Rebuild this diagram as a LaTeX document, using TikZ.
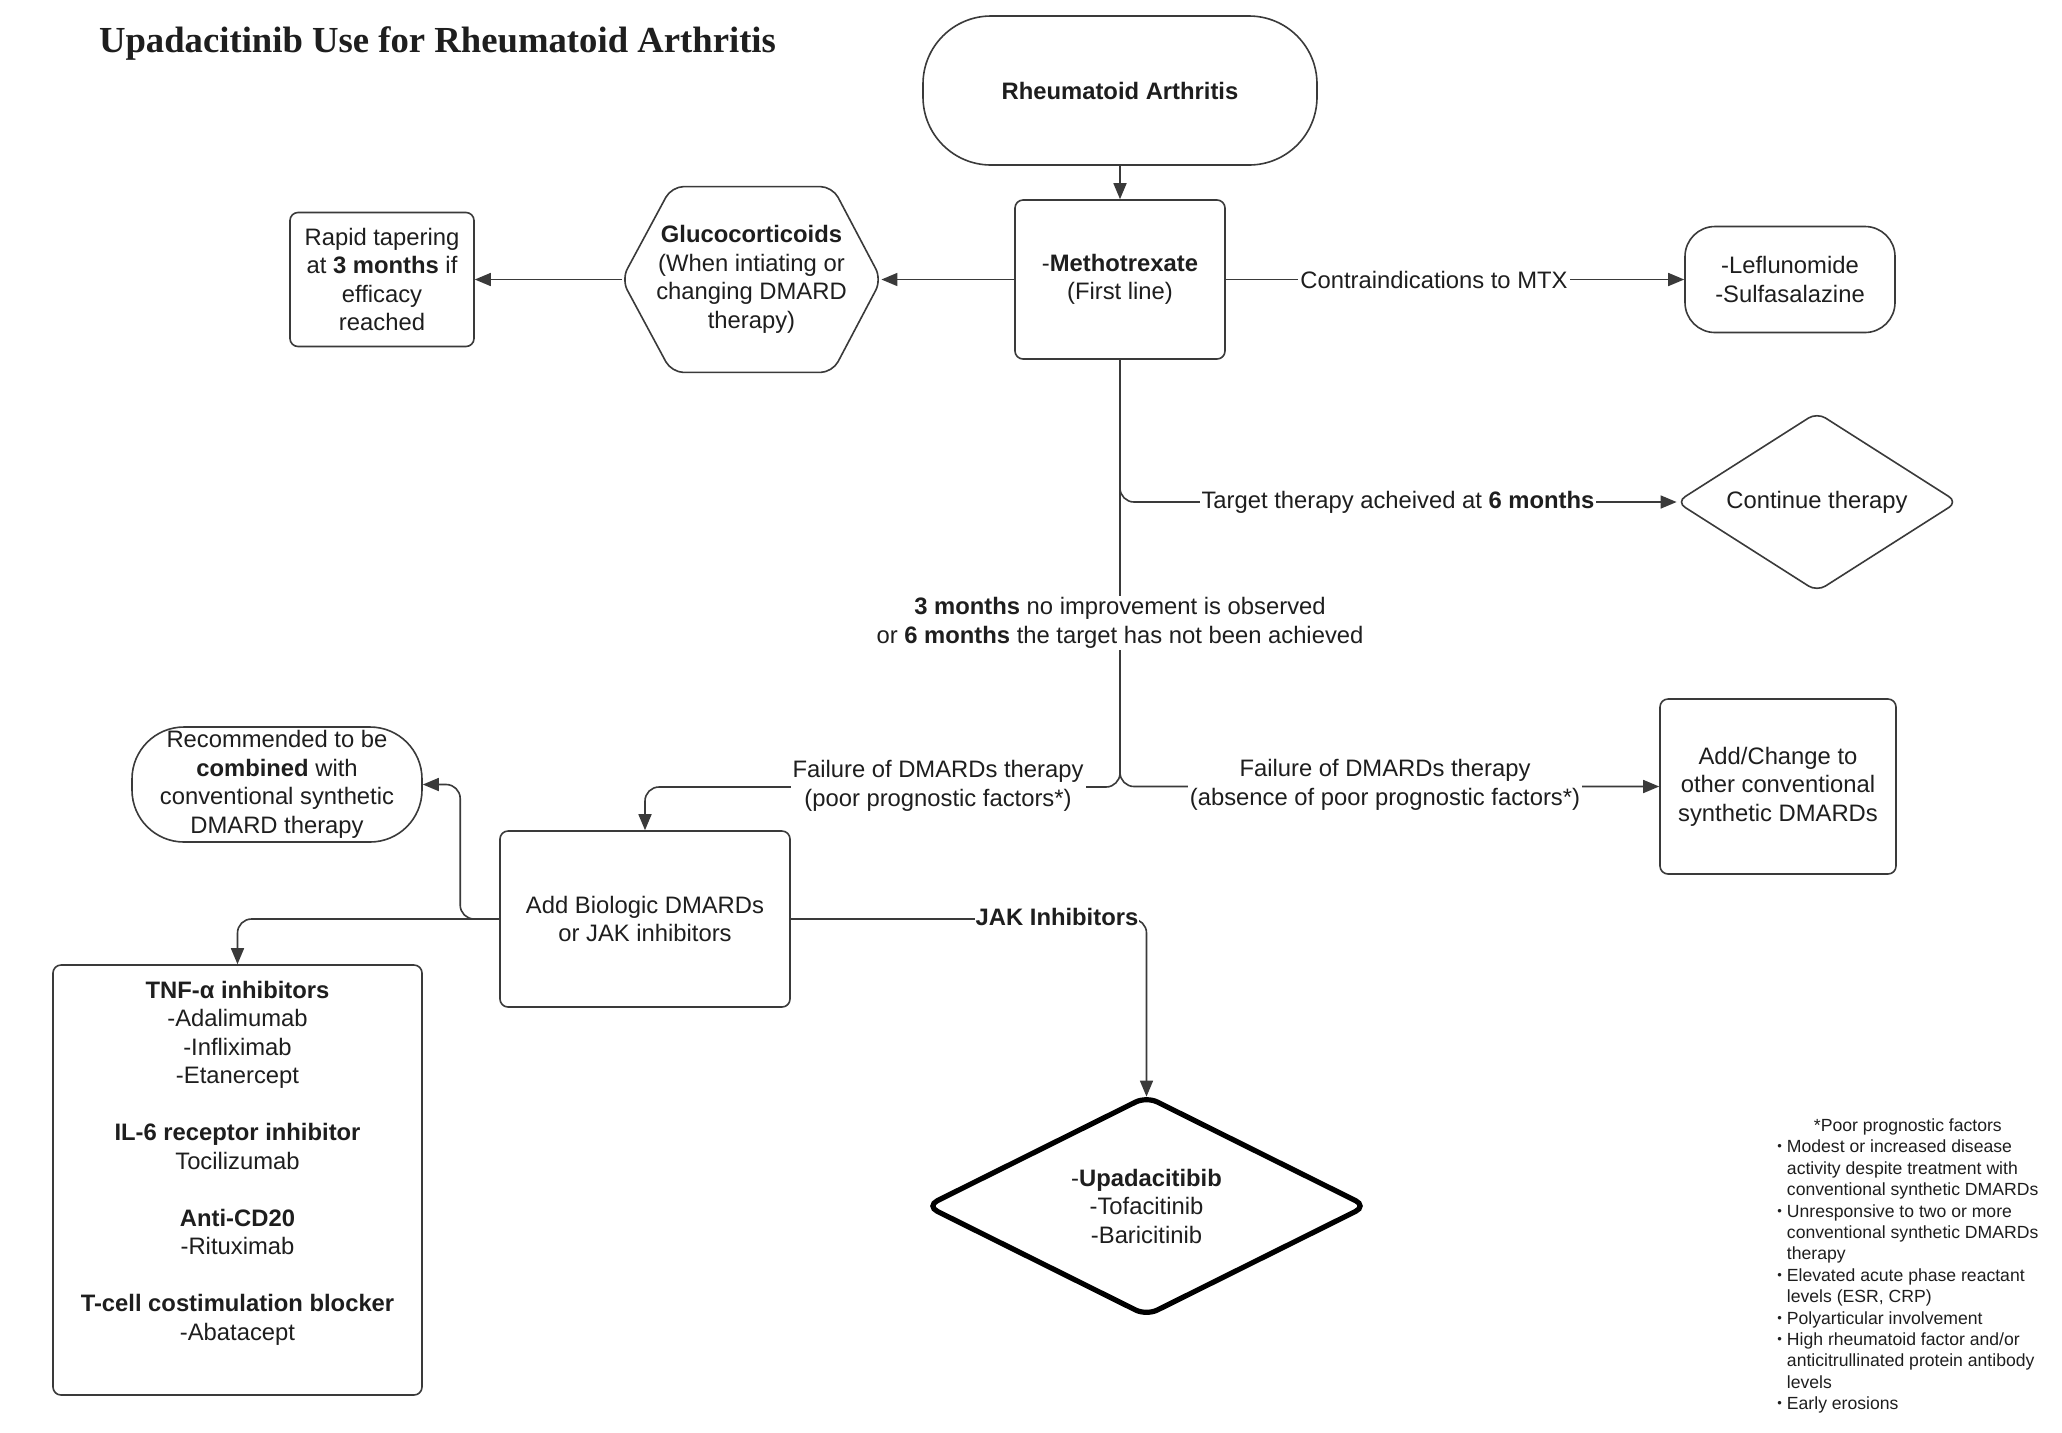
\documentclass[tikz,border=0pt]{standalone}
\usepackage{fontspec}
\setmainfont{Liberation Sans}
\newfontfamily\titlefont{Liberation Serif}
\usetikzlibrary{arrows.meta,calc}
\definecolor{ln}{HTML}{3A3A3A}
\definecolor{tx}{HTML}{1E1E1E}
\newcommand\mainsz{\fontsize{11.9}{14.25}\selectfont}
\newcommand\fnsz{\fontsize{8.8}{10.7}\selectfont}
\begin{document}
\begin{tikzpicture}[x=0.5pt,y=-0.5pt,
  every node/.style={text=tx, font=\mainsz},
  box/.style={draw=ln, line width=0.8pt, rounded corners=4pt, align=center, inner sep=0pt},
  shp/.style={draw=ln, line width=0.8pt},
  conn/.style={draw=ln, line width=0.8pt, rounded corners=7pt},
  arr/.style={conn, -{Triangle[length=8pt,width=6.5pt]}},
  lbl/.style={fill=white, inner sep=1pt, align=center},
]
\useasboundingbox[fill=white] (0,0) rectangle (2062,1432);

% title
\node[anchor=base west, font=\fontsize{18.35}{22}\titlefont\bfseries] (title) at (92,52) {Upadacitinib Use for Rheumatoid Arthritis};

% nodes
\node[box, rounded corners=34pt, minimum width=197pt, minimum height=74.5pt, font=\mainsz\bfseries] (ra) at (1120,90.5) {Rheumatoid Arthritis};
\node[box, minimum width=105pt, minimum height=79.5pt] (mtx) at (1120,279.5) {-\textbf{Methotrexate}\\(First line)};
\node[minimum width=129.5pt, minimum height=92.5pt, align=center, inner sep=0pt] (glu) at (751.5,279.5) {\textbf{Glucocorticoids}\\(When intiating or\\changing DMARD\\therapy)};
\draw[shp, rounded corners=6pt] (glu.west) -- ($(glu.north west)+(50,0)$) -- ($(glu.north east)+(-49,0)$) -- (glu.east) -- ($(glu.south east)+(-49,0)$) -- ($(glu.south west)+(50,0)$) -- cycle;
\node[box, minimum width=92pt, minimum height=67pt] (rap) at (382,279.5) {Rapid tapering\\at \textbf{3 months} if\\efficacy\\reached};
\node[box, rounded corners=15pt, minimum width=105pt, minimum height=53pt] (lef) at (1790,279.5) {-Leflunomide\\-Sulfasalazine};
\node[minimum width=140pt, minimum height=89pt, inner sep=0pt] (cont) at (1817,502) {Continue therapy};
\draw[shp, rounded corners=5pt] (cont.west) -- (cont.north) -- (cont.east) -- (cont.south) -- cycle;
\node[box, minimum width=118pt, minimum height=87.5pt] (addc) at (1778,786.5) {Add/Change to\\other conventional\\synthetic DMARDs};
\node[box, minimum width=145pt, minimum height=88pt] (bio) at (645,919) {Add Biologic DMARDs\\or JAK inhibitors};
\node[box, rounded corners=26pt, minimum width=145pt, minimum height=57.5pt] (rec) at (277,784.5) {Recommended to be\\\textbf{combined} with\\conventional synthetic\\DMARD therapy};
\node[box, minimum width=184.5pt, minimum height=215pt] (tnf) at (237.5,1180) {};
\node[align=center] (tnft) at (237.5,1163) {\textbf{TNF-α inhibitors}\\-Adalimumab\\-Infliximab\\-Etanercept\\[14.25pt]\textbf{IL-6 receptor inhibitor}\\Tocilizumab\\[14.25pt]\textbf{Anti-CD20}\\-Rituximab\\[14.25pt]\textbf{T-cell costimulation blocker}\\-Abatacept};
\node[minimum width=219.5pt, minimum height=109pt, inner sep=0pt, align=center] (jak) at (1146.5,1206) {-\textbf{Upadacitibib}\\-Tofacitinib\\-Baricitinib};
\draw[draw=black, line width=2.6pt, rounded corners=6pt] (jak.west) -- (jak.north) -- (jak.east) -- (jak.south) -- cycle;

% footnote
\node[anchor=north west, inner sep=0pt, font=\fnsz] (fn) at (1777,1116) {\begin{tabular}{@{}l@{\hspace{2.5pt}}l@{}}
\multicolumn{2}{c}{*Poor prognostic factors}\\
\raisebox{0.2ex}{\fontsize{6.5}{6.5}\selectfont •}&Modest or increased disease\\
&activity despite treatment with\\
&conventional synthetic DMARDs\\
\raisebox{0.2ex}{\fontsize{6.5}{6.5}\selectfont •}&Unresponsive to two or more\\
&conventional synthetic DMARDs\\
&therapy\\
\raisebox{0.2ex}{\fontsize{6.5}{6.5}\selectfont •}&Elevated acute phase reactant\\
&levels (ESR, CRP)\\
\raisebox{0.2ex}{\fontsize{6.5}{6.5}\selectfont •}&Polyarticular involvement\\
\raisebox{0.2ex}{\fontsize{6.5}{6.5}\selectfont •}&High rheumatoid factor and/or\\
&anticitrullinated protein antibody\\
&levels\\
\raisebox{0.2ex}{\fontsize{6.5}{6.5}\selectfont •}&Early erosions
\end{tabular}};

% connectors
\draw[arr] (ra.south) -- (mtx.north);
\draw[arr] (mtx.west) -- (glu.east);
\draw[arr] (glu.west) -- (rap.east);
\draw[arr] (mtx.east) -- (lef.west);
\node[lbl] (lcontra) at (1434,279.5) {Contraindications to MTX};

\draw[arr] (mtx.south) |- (cont.west);
\node[lbl] (ltarget) at (1398,502) {Target therapy acheived at \textbf{6 months}};

\coordinate (split) at (1120,787);
\draw[arr] (mtx.south) |- (addc.west);
\draw[arr] (mtx.south) -- (split) -| (bio.north);
\node[lbl] (l3m) at (1120,623) {\textbf{3 months} no improvement is observed\\or \textbf{6 months} the target has not been achieved};
\node[lbl] (lfail1) at (938,786) {Failure of DMARDs therapy\\(poor prognostic factors*)};
\node[lbl] (lfail2) at (1385,785) {Failure of DMARDs therapy\\(absence of poor prognostic factors*)};

\draw[arr] (bio.west) -- ++(-39,0) |- (rec.east);
\draw[arr] (bio.west) -| (tnf.north);
\draw[arr] (bio.east) -| (jak.north);
\node[lbl, inner sep=0.5pt, font=\mainsz\bfseries] (ljak) at (1057,917) {JAK Inhibitors};
\end{tikzpicture}
\end{document}
